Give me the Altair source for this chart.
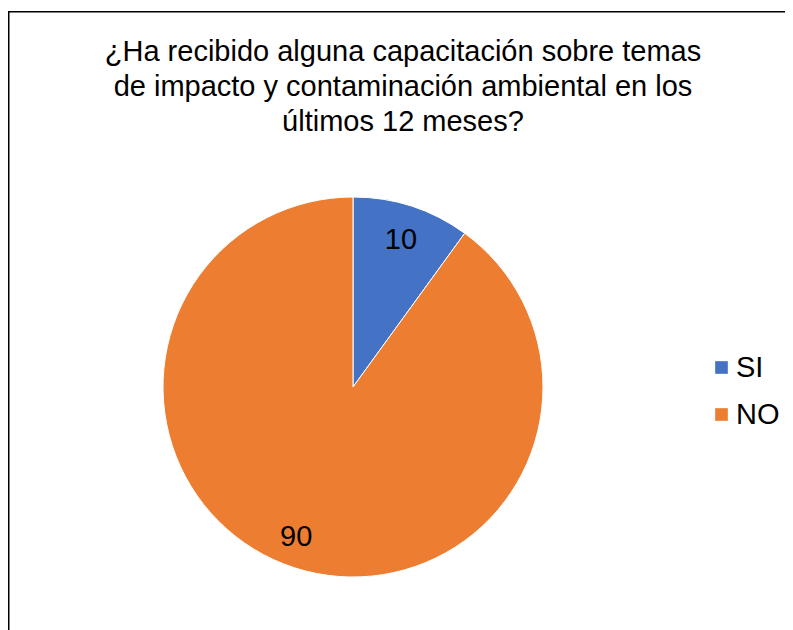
import altair as alt
import pandas as pd
import math

categories = ["SI", "NO"]
values = [10, 90]
order = [1, 2]
colors = ["#4472C4", "#ED7D31"]
title_lines = ["¿Ha recibido alguna capacitación sobre temas",
               "de impacto y contaminación ambiental en los",
               "últimos 12 meses?"]

df = pd.DataFrame({"cat": categories, "val": values, "ord": order})

FONT = "Liberation Sans"
FS = 29
cx, cy = 345, 376

pie = alt.Chart(df).mark_arc(outerRadius=190, stroke="white", strokeWidth=1).encode(
    theta=alt.Theta("val:Q", stack=True),
    order=alt.Order("ord:Q"),
    x=alt.value(cx), y=alt.value(cy),
    color=alt.Color("cat:N", scale=alt.Scale(domain=categories, range=colors),
                    legend=alt.Legend(orient="none", legendX=699, legendY=342,
                                      title=None, symbolType="square", symbolSize=160,
                                      symbolStrokeWidth=0, labelFontSize=FS,
                                      labelFont=FONT, labelColor="#000000",
                                      rowPadding=17, labelOffset=0)),
)

lab_base = alt.Chart(df).transform_window(
    cum="sum(val)", sort=[alt.SortField("ord")]
).transform_joinaggregate(total="sum(val)").transform_calculate(
    mid="(datum.cum - datum.val / 2) / datum.total"
)
theta_scale = alt.Scale(domain=[0, 1], range=[0, 2 * math.pi])

lab_si = lab_base.transform_filter(alt.datum.cat == "SI").mark_text(
    radius=155, font=FONT, fontSize=FS, color="#000000").encode(
    theta=alt.Theta("mid:Q", scale=theta_scale),
    x=alt.value(cx), y=alt.value(cy),
    text=alt.Text("val:Q"),
)

lab_no = lab_base.transform_filter(alt.datum.cat == "NO").mark_text(
    radius=158, font=FONT, fontSize=FS, color="#000000", dx=-8).encode(
    theta=alt.Theta("mid:Q", scale=theta_scale),
    x=alt.value(cx), y=alt.value(cy),
    text=alt.Text("val:Q"),
)

title = alt.Chart(pd.DataFrame({"t": [title_lines]})).mark_text(
    font=FONT, fontSize=FS, color="#000000", lineHeight=35, baseline="alphabetic", align="center"
).encode(x=alt.value(395), y=alt.value(50), text="t")

# frame: left and top edges (the rest lies outside the picture)
frame_left = alt.Chart(pd.DataFrame({"a": [0]})).mark_rule(color="#000000", strokeWidth=1.5).encode(
    x=alt.value(0.75), y=alt.value(0), y2=alt.value(640))
frame_top = alt.Chart(pd.DataFrame({"a": [0]})).mark_rule(color="#000000", strokeWidth=1.5).encode(
    x=alt.value(0), x2=alt.value(800), y=alt.value(0.75))

chart = alt.layer(pie, lab_si, lab_no, title, frame_left, frame_top).resolve_scale(
    theta="independent"
).properties(
    width=777, height=620,
    padding={"left": 0, "top": 3, "right": 0, "bottom": 0},
    autosize=alt.AutoSizeParams(type="none"),
).configure_view(stroke=None)

chart.save("out.html", embed_options={"renderer": "svg", "actions": False})
